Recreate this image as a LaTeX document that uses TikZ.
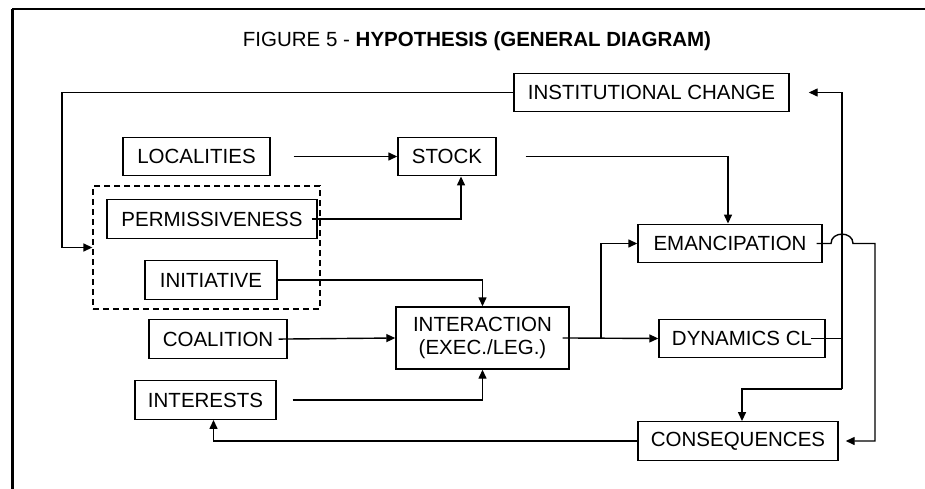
\documentclass[tikz,border=0pt]{standalone}
\usepackage{fontspec}
\setmainfont{Liberation Sans}
\usetikzlibrary{arrows.meta}
\begin{document}
\begin{tikzpicture}[x=1pt,y=-1pt,
  every node/.style={font=\fontsize{20.5}{23}\selectfont, inner sep=0pt},
  box/.style={draw, line width=1.4pt, minimum height=38.5pt, align=center},
  conn/.style={line width=1.4pt},
  arr/.style={conn, -{Triangle[length=9pt,width=8pt]}},
  grpbox/.style={draw, line width=1.3pt, dash pattern=on 6pt off 4pt,
    minimum width=227pt, minimum height=123pt}]
  % page frame
  \useasboundingbox (0,0) rectangle (925,489);
  \fill[white] (0,0) rectangle (925,489);
  \draw[line width=2.5pt] (12,9) -- (925,9);
  \draw[line width=3pt] (12,9) -- (12,489);

  % title
  \node (title) at (477,41) {FIGURE 5 - \textbf{HYPOTHESIS (GENERAL DIAGRAM)}};

  % boxes
  \node[box, minimum width=275pt] (inst) at (651.5,92.5) {INSTITUTIONAL CHANGE};
  \node[box, minimum width=147pt] (loc) at (196.5,156.5) {LOCALITIES};
  \node[box, minimum width=98pt] (stock) at (447,156.5) {STOCK};
  \node[grpbox] (grp) at (206.5,247.5) {};
  \node[box, minimum width=210pt] (perm) at (212,219) {PERMISSIVENESS};
  \node[box, minimum width=132pt] (init) at (211,280) {INITIATIVE};
  \node[box, minimum width=138pt] (coal) at (218,339) {COALITION};
  \node[box, minimum width=173pt, minimum height=62pt] (inter) at (482.5,338)
    {INTERACTION\\(EXEC./LEG.)};
  \node[box, minimum width=141pt] (interests) at (205.5,400) {INTERESTS};
  \node[box, minimum width=184pt] (eman) at (730,243.5) {EMANCIPATION};
  \node[box, minimum width=166pt] (dyn) at (742,338.5) {DYNAMICS CL};
  \node[box, minimum width=200pt] (cons) at (738,441) {CONSEQUENCES};

  % routing points
  \coordinate (lft) at (62,92.5);
  \coordinate (jn) at (601,338);
  \coordinate (rt) at (842,92.5);
  \coordinate (rb) at (842,389);
  \coordinate (dj) at (842,338.5);

  % connectors
  \draw[arr] (inst.west) -- (lft) |- (grp.west);
  \draw[arr, shorten <=23pt] (loc.east) -- (stock.west);
  \draw[arr, shorten <=-6pt] (perm.east) -| ([xshift=14pt]stock.south);
  \draw[arr, shorten <=29pt] (stock.east) -| ([xshift=-2pt]eman.north);
  \draw[arr] (init.east) -| (inter.north);
  \draw[arr, shorten <=-9pt] (coal.east) -- (inter.west);
  \draw[arr, shorten <=16pt] (interests.east) -| (inter.south);
  \draw[arr, shorten <=-7pt] (inter.east) -- (dyn.west);
  \draw[arr] (jn) |- (eman.west);
  \draw[conn, shorten <=-15pt] (dyn.east) -- (dj);
  \draw[arr, shorten >=19pt] (rb) -- (rt) -- (inst.east);
  \draw[arr] (rb) -| ([xshift=4pt]cons.north);
  \draw[arr, shorten <=-6pt, shorten >=7pt] (eman.east) -- (831,243.5)
    .. controls (831,231) and (853,231) .. (853,243.5) -- (875,243.5) |- (cons.east);
  \draw[arr] (cons.west) -| ([xshift=8pt]interests.south);
\end{tikzpicture}
\end{document}
